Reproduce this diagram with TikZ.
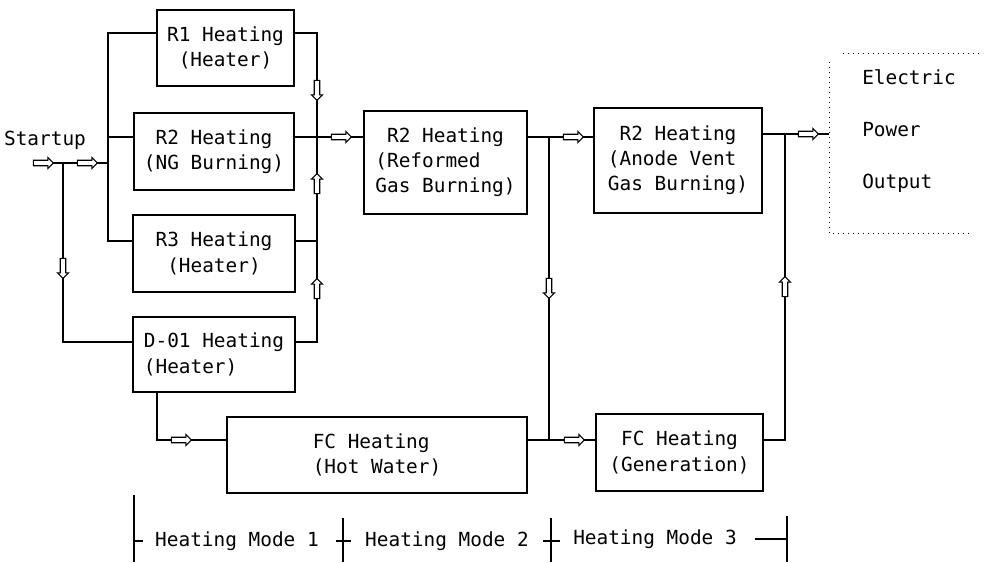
\documentclass[tikz,border=0pt]{standalone}
\usepackage{fontspec}
\setmonofont{DejaVu Sans Mono}
\usetikzlibrary{shapes.arrows}

\begin{document}
\begin{tikzpicture}[x=0.5pt, y=-0.5pt, line width=0.6pt,
      every node/.style={font=\ttfamily\fontsize{9.7}{12.6}\selectfont},
      blk/.style={draw, line width=0.7pt, inner sep=0pt, align=center},
      harrow/.style={single arrow, draw, fill=white, line width=0.55pt, inner sep=1.1pt,
                     minimum height=10pt, single arrow head extend=1.4pt},
      tick/.style={line width=0.6pt}]
    \useasboundingbox (0,0) rectangle (989,562);

    % === reactor heating blocks ===
    \node[blk, minimum width=68.5pt, minimum height=38pt] (r1) at (225.5,48) {R1 Heating\\(Heater)};
    \node[blk, minimum width=80pt, minimum height=38.5pt] (r2) at (214,151.5) {R2 Heating\\(NG Burning)};
    \node[blk, minimum width=81pt, minimum height=38.5pt] (r3) at (214,253.5) {R3 Heating\\(Heater)};
    \node[blk, minimum width=81pt, minimum height=37.5pt, align=left] (d01) at (214,354.5) {D-01 Heating\\(Heater)};
    \node[blk, minimum width=81.5pt, minimum height=51.5pt, align=left] (r2ref) at (445.5,162.5) {~R2 Heating\\(Reformed\\Gas Burning)};
    \node[blk, minimum width=84pt, minimum height=52.5pt, align=left] (r2ano) at (678,160.5) {~R2 Heating\\(Anode Vent\\Gas Burning)};
    \node[blk, minimum width=150pt, minimum height=38pt, align=left] (fchw) at (377,455) {FC Heating\\(Hot Water)};
    \node[blk, minimum width=83.5pt, minimum height=38.5pt] (fcgen) at (679.5,452.5) {FC Heating\\(Generation)};

    % === labels ===
    \node (startup) at (45,140) {Startup};
    \node[align=left, anchor=west, font=\ttfamily\fontsize{9.7}{26}\selectfont] (elec) at (855,131) {Electric\\Power\\Output};

    % === startup lines ===
    \coordinate (st) at (52,163);
    \draw (st) -- (108,163);
    \draw (r1.west |- 0,33) -| (108,241) -- (r3.west |- 0,241);
    \draw (108,137) -- (r2.west |- 0,137);
    \draw (63,163) |- (d01.west |- 0,342);

    % === collecting bus ===
    \draw (r1.east |- 0,33) -| (317,342) -- (d01.east |- 0,342);
    \draw (r3.east |- 0,241) -- (317,241);
    \draw (r2.east |- 0,137) -- (r2ref.west |- 0,137);

    % === mode 2 / 3 lines ===
    \draw (r2ref.east |- 0,137) -- (r2ano.west |- 0,137);
    \draw (549,137) -- (549,440);
    \draw (d01.south -| 157,0) |- (fchw.west |- 0,440);
    \draw (fchw.east |- 0,440) -- (fcgen.west |- 0,440);
    \draw (fcgen.east |- 0,440) -| (785,134);
    \coordinate (pwr) at (829,134);
    \draw (r2ano.east |- 0,134) -- (pwr);

    % === output frame ===
    \draw[dotted, line width=0.5pt] (843,53) -- (983,53);
    \draw[dotted, line width=0.5pt] (829,62) -- (829,233) -- (972,233);

    % === hollow arrows ===
    \foreach \x/\y/\r in {42/163/0, 86/163/0, 63/267/270, 317/89/270, 317/185/90, 317/290/90,
                          340/137/0, 572/137/0, 549/287/270, 180/440/0, 573/440/0,
                          785/288/90, 807/134/0}
      \node[harrow, shape border rotate=\r] (ar\x-\y) at (\x,\y) {};

    % === heating modes ===
    \node (mode1) at (237,541) {Heating Mode 1};
    \node (mode2) at (447,541) {Heating Mode 2};
    \node (mode3) at (655,539) {Heating Mode 3};
    \draw[tick] (134,495) -- (134,562);
    \draw[tick] (343,518) -- (343,562);
    \draw[tick] (551,518) -- (551,562);
    \draw[tick] (787,516) -- (787,562);
    \draw[tick] (134,541) -- (143,541);
    \draw[tick] (336,541) -- (351,541);
    \draw[tick] (543,541) -- (560,541);
    \draw[tick] (755,539) -- (787,539);
\end{tikzpicture}
\end{document}
